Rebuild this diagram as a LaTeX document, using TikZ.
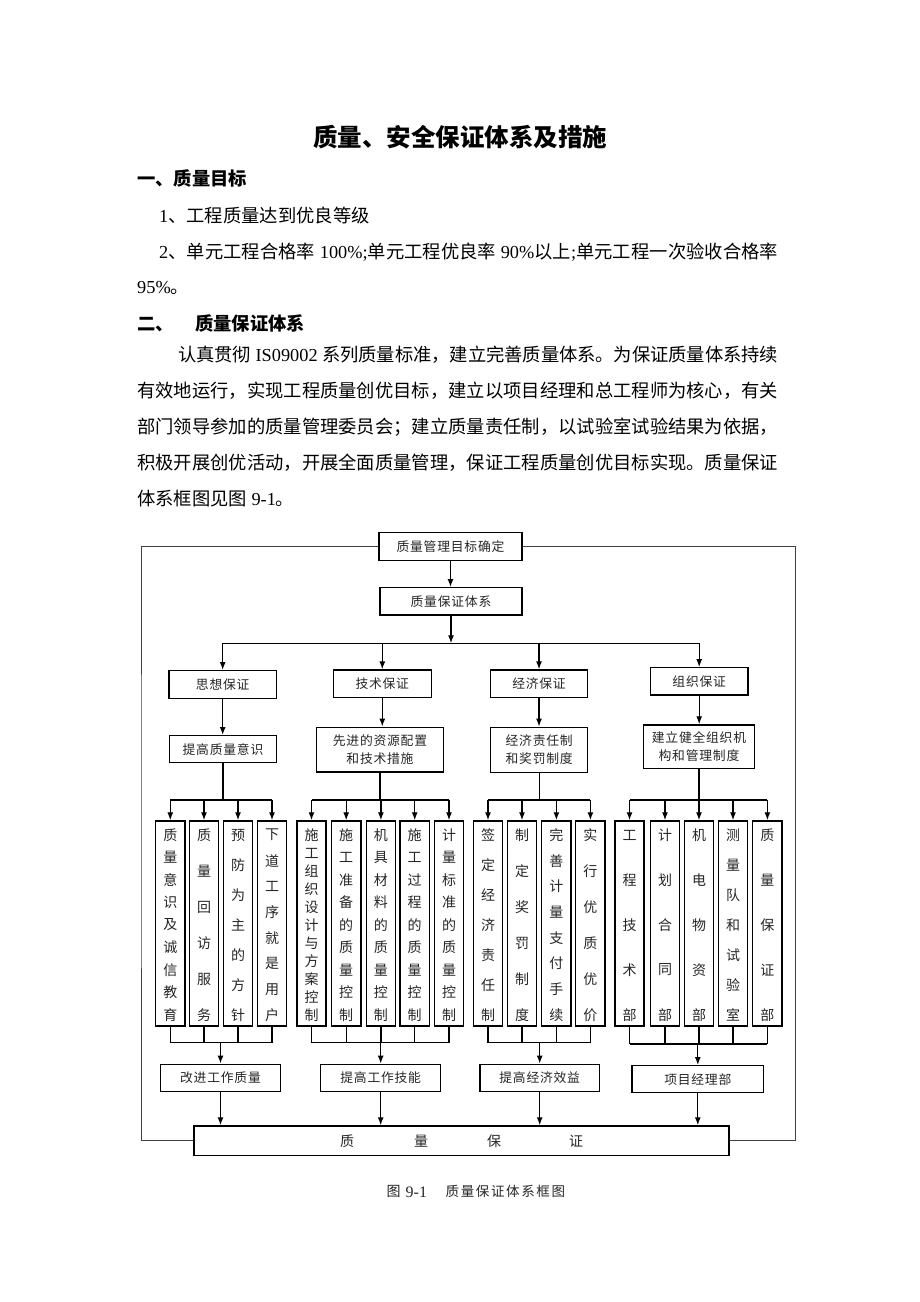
\documentclass[tikz,border=0pt]{standalone}
\usepackage{fontspec}
\setmainfont{Noto Sans CJK SC}
\newfontfamily\lat{Liberation Serif}
\newfontfamily\boxf[LetterSpace=6]{Noto Sans CJK SC}
\newfontfamily\capf[LetterSpace=12]{Noto Sans CJK SC}
\usetikzlibrary{arrows.meta,calc}
\makeatletter
\def\spr@stopm{\spr@stop}
\def\spr@go#1{#1\spr@rest}
\def\spr@rest#1{\def\spr@tmp{#1}\ifx\spr@tmp\spr@stopm\else\hskip 0pt plus 1fil minus 1pt\relax#1\expandafter\spr@rest\fi}
\newcommand\jline[2]{\hbox to #1{\spr@go#2\spr@stop}}
\makeatother
\newcommand\vcol[4]{%
  \node[col] (#1) at (#2,923.5) {};
  \foreach \vc [count=\vi] in {#4} {\node[ctxt] at (#2,{835+(\vi-1)*180/(#3-1)}) {\vc};}
}
\begin{document}
\begin{tikzpicture}[x=1pt,y=-1pt,
  box/.style={draw, line width=1.4pt, inner sep=0pt, font=\boxf\fontsize{12.8}{18}\selectfont, text=black!85, align=center},
  col/.style={draw, line width=1.4pt, minimum width=29.3pt, minimum height=205pt, inner sep=0pt},
  ctxt/.style={inner sep=0pt, font=\fontsize{14}{14}\selectfont, text=black!85},
  arr/.style={line width=1.3pt, -{Latex[length=8pt,width=6pt]}},
  ln/.style={line width=1.2pt},
  frame/.style={line width=1pt, black!75},
  body/.style={inner sep=0pt, anchor=base west, font=\fontsize{18.3}{18.3}\selectfont},
  bodyb/.style={inner sep=0pt, anchor=base west, font=\fontsize{18.3}{18.3}\selectfont\bfseries}]
\fill[white] (0,0) rectangle (920,1302);
\path[use as bounding box] (0,0) rectangle (920,1302);

% ---------- text ----------
\node[inner sep=0pt, font=\fontsize{24.5}{24.5}\selectfont\bfseries] (title) at (460,137) {质量、安全保证体系及措施};
\node[bodyb] (h1) at (137,185.3) {一、质量目标};
\node[body] (l1) at (159,222) {{\lat 1}、工程质量达到优良等级};
\node[body] (l2) at (159,258) {\jline{619pt}{{{\lat 2}}、单元工程合格率{{\lat\ 100\%;}}单元工程优良率{{\lat\ 90\%}}以上{{\lat ;}}单元工程一次验收合格率}};
\node[body] (l3) at (137,293.7) {{\lat 95\%}。};
\node[bodyb] (h2a) at (137,330) {二、};
\node[bodyb] (h2b) at (195,330) {质量保证体系};
\node[body] (p1) at (178,361.5) {\jline{600pt}{认真贯彻{{\lat\ IS09002\ }}系列质量标准，建立完善质量体系。为保证质量体系持续}};
\node[body] (p2) at (137,397.5) {\jline{641pt}{有效地运行，实现工程质量创优目标，建立以项目经理和总工程师为核心，有关}};
\node[body] (p3) at (137,433.5) {\jline{641pt}{部门领导参加的质量管理委员会；建立质量责任制，以试验室试验结果为依据，}};
\node[body] (p4) at (137,469.5) {\jline{641pt}{积极开展创优活动，开展全面质量管理，保证工程质量创优目标实现。质量保证}};
\node[body] (p5) at (137,505.5) {体系框图见图{\lat\ 9-1}。};

% ---------- chart boxes ----------
\node[box, minimum width=143pt, minimum height=27.6pt] (goal) at (450.5,546.5) {质量管理目标确定};
\node[box, minimum width=142pt, minimum height=27.3pt] (sys) at (451,601.4) {质量保证体系};

\node[box, minimum width=107.3pt, minimum height=27.6pt] (sx) at (222.7,684.5) {思想保证};
\node[box, minimum width=98pt, minimum height=27.3pt] (js) at (382.3,683.7) {技术保证};
\node[box, minimum width=97.4pt, minimum height=27.3pt] (jj) at (539,683.7) {经济保证};
\node[box, minimum width=97.7pt, minimum height=27.3pt] (zz) at (699.2,681.4) {组织保证};

\node[box, minimum width=107.4pt, minimum height=27pt] (p1b) at (223,749.2) {提高质量意识};
\node[box, minimum width=126.6pt, minimum height=44.7pt] (p2b) at (380,749.7) {先进的资源配置\\和技术措施};
\node[box, minimum width=97pt, minimum height=45.4pt] (p3b) at (539.2,750) {经济责任制\\和奖罚制度};
\node[box, minimum width=110.6pt, minimum height=43.7pt] (p4b) at (699,746.8) {建立健全组织机\\构和管理制度};

\vcol{c11}{170.3}{9}{质,量,意,识,及,诚,信,教,育}
\vcol{c12}{204}{6}{质,量,回,访,服,务}
\vcol{c13}{238}{7}{预,防,为,主,的,方,针}
\vcol{c14}{272}{8}{下,道,工,序,就,是,用,户}
\vcol{c21}{311.5}{11}{施,工,组,织,设,计,与,方,案,控,制}
\vcol{c22}{346.2}{9}{施,工,准,备,的,质,量,控,制}
\vcol{c23}{380.9}{9}{机,具,材,料,的,质,量,控,制}
\vcol{c24}{414.7}{9}{施,工,过,程,的,质,量,控,制}
\vcol{c25}{449}{9}{计,量,标,准,的,质,量,控,制}
\vcol{c31}{488}{7}{签,定,经,济,责,任,制}
\vcol{c32}{522}{6}{制,定,奖,罚,制,度}
\vcol{c33}{556.4}{8}{完,善,计,量,支,付,手,续}
\vcol{c34}{590.4}{6}{实,行,优,质,优,价}
\vcol{c41}{629.5}{5}{工,程,技,术,部}
\vcol{c42}{665}{5}{计,划,合,同,部}
\vcol{c43}{699}{5}{机,电,物,资,部}
\vcol{c44}{733}{7}{测,量,队,和,试,验,室}
\vcol{c45}{767.4}{5}{质,量,保,证,部}

\node[box, minimum width=120.4pt, minimum height=27.4pt] (q1) at (220.5,1078) {改进工作质量};
\node[box, minimum width=120pt, minimum height=27.4pt] (q2) at (380.7,1078) {提高工作技能};
\node[box, minimum width=119.3pt, minimum height=27.4pt] (q3) at (539.7,1078) {提高经济效益};
\node[box, minimum width=131.7pt, minimum height=27pt] (q4) at (697.8,1079.2) {项目经理部};

\node[draw, line width=1.4pt, inner sep=0pt, minimum width=535pt, minimum height=29.7pt, font=\fontsize{14}{14}\selectfont, text=black!85] (big) at (461.5,1140.8) {质\hspace{60pt}量\hspace{59pt}保\hspace{68pt}证};

\node[inner sep=0pt, font=\fontsize{14}{14}\selectfont, text=black!85] (cap1) at (393.5,1191.7) {图};
\node[inner sep=0pt, anchor=west, font=\lat\fontsize{16}{16}\selectfont, text=black!85] (cap2) at (405.5,1192.5) {9-1};
\node[inner sep=0pt, anchor=west, font=\capf\fontsize{13.5}{13.5}\selectfont, text=black!85] (cap3) at (445.5,1191.7) {质量保证体系框图};

% ---------- connectors ----------
\coordinate (t1) at (0,643.3);
\draw[arr] (goal.south) -- (goal.south |- sys.north);
\draw[arr] (sys.south) -- (sys.south |- t1);
\draw[ln] (sx.north |- t1) -- (zz.north |- t1);
\foreach \n in {sx,js,jj,zz} \draw[arr] (\n.north |- t1) -- (\n.north);
\draw[arr] (sx.south) -- (sx.south |- p1b.north);
\draw[arr] (js.south) -- (js.south |- p2b.north);
\draw[arr] (jj.south) -- (jj.south |- p3b.north);
\draw[arr] (zz.south) -- (zz.south |- p4b.north);

\coordinate (m1) at (0,800);
\draw[ln] (p1b.south) -- (p1b.south |- m1);
\draw[ln] (c11.north |- m1) -- (c14.north |- m1);
\foreach \n in {c11,c12,c13,c14} \draw[arr] (\n.north |- m1) -- (\n.north);
\draw[ln] (p2b.south) -- (p2b.south |- m1);
\draw[ln] (c21.north |- m1) -- (c25.north |- m1);
\foreach \n in {c21,c22,c23,c24,c25} \draw[arr] (\n.north |- m1) -- (\n.north);
\draw[ln] (p3b.south) -- (p3b.south |- m1);
\draw[ln] (c31.north |- m1) -- (c34.north |- m1);
\foreach \n in {c31,c32,c33,c34} \draw[arr] (\n.north |- m1) -- (\n.north);
\draw[ln] (p4b.south) -- (p4b.south |- m1);
\draw[ln] (c41.north |- m1) -- (c45.north |- m1);
\foreach \n in {c41,c42,c43,c44,c45} \draw[arr] (\n.north |- m1) -- (\n.north);

\coordinate (n1) at (0,1042.5);
\coordinate (n4) at (0,1044);
\foreach \n in {c11,c12,c13,c14,c21,c22,c23,c24,c25,c31,c32,c33,c34} \draw[ln] (\n.south) -- (\n.south |- n1);
\foreach \n in {c41,c42,c43,c44,c45} \draw[ln] (\n.south) -- (\n.south |- n4);
\draw[ln] (c11.south |- n1) -- (c14.south |- n1);
\draw[ln] (c21.south |- n1) -- (c25.south |- n1);
\draw[ln] (c31.south |- n1) -- (c34.south |- n1);
\draw[ln] (c41.south |- n4) -- (c45.south |- n4);
\draw[arr] (q1.north |- n1) -- (q1.north);
\draw[arr] (q2.north |- n1) -- (q2.north);
\draw[arr] (q3.north |- n1) -- (q3.north);
\draw[arr] (q4.north |- n4) -- (q4.north);
\foreach \n in {q1,q2,q3,q4} \draw[arr] (\n.south) -- (\n.south |- big.north);

\coordinate (fl) at (141,800);
\coordinate (fr) at (795.5,800);
\draw[frame] (goal.west) -| (fl) |- (big.west);
\draw[frame] (goal.east) -| (fr) |- (big.east);
\end{tikzpicture}
\end{document}
